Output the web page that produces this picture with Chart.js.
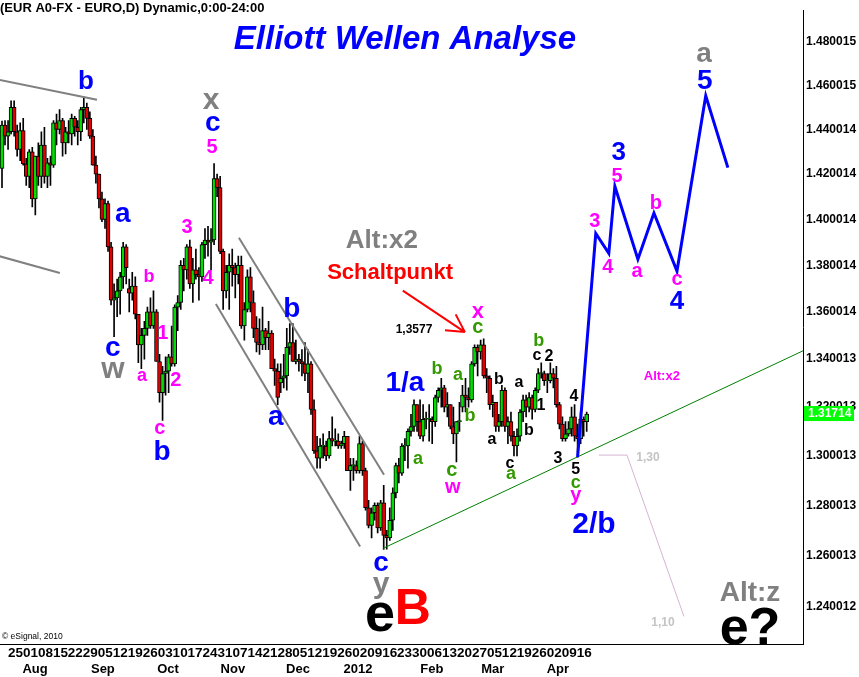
<!DOCTYPE html>
<html><head><meta charset="utf-8">
<script src="https://cdn.jsdelivr.net/npm/chart.js@4.4.1/dist/chart.umd.min.js"></script>
<style>html,body{margin:0;padding:0;background:#fff;}canvas{display:block;}</style>
</head><body>
<canvas id="c" width="859" height="677"></canvas>
<script>
// Daily EUR/USD bars, 21 Jul 2011 .. 19 Apr 2012 (index = bar number)
const openP = [
1.4225,1.4420,1.4370,1.4390,1.4500,1.4390,1.4310,1.4395,1.4245,1.4190,
1.4300,1.4090,1.4280,1.4190,1.4330,1.4190,1.4250,1.4240,1.4430,1.4400,
1.4440,1.4340,1.4390,1.4380,1.4450,1.4410,1.4390,1.4490,1.4500,1.4450,
1.4370,1.4240,1.4200,1.4090,1.4000,1.4070,1.3880,1.3650,1.3660,1.3690,
1.3750,1.3880,1.3700,1.3680,1.3710,1.3590,1.3460,1.3500,1.3530,1.3600,
1.3540,1.3600,1.3390,1.3260,1.3340,1.3350,1.3410,1.3380,1.3620,1.3640,
1.3800,1.3780,1.3880,1.3720,1.3780,1.3760,1.3750,1.3890,1.3910,1.3900,
1.3910,1.4180,1.4140,1.3860,1.3690,1.3770,1.3800,1.3790,1.3760,1.3800,
1.3540,1.3610,1.3750,1.3640,1.3530,1.3470,1.3460,1.3520,1.3490,1.3510,
1.3360,1.3350,1.3300,1.3320,1.3330,1.3450,1.3470,1.3390,1.3400,1.3390,
1.3380,1.3340,1.3380,1.3190,1.3020,1.2990,1.3040,1.3040,1.3000,1.3070,
1.3060,1.3060,1.3040,1.3050,1.3080,1.2940,1.2960,1.2960,1.2940,1.3050,
1.2940,1.2790,1.2720,1.2770,1.2800,1.2710,1.2810,1.2680,1.2670,1.2740,
1.2850,1.2960,1.2930,1.3040,1.3040,1.3100,1.3120,1.3210,1.3140,1.3080,
1.3150,1.3150,1.3150,1.3140,1.3240,1.3270,1.3280,1.3200,1.3210,1.3120,
1.3090,1.3140,1.3200,1.3250,1.3240,1.3230,1.3380,1.3450,1.3430,1.3460,
1.3330,1.3320,1.3210,1.3220,1.3120,1.3140,1.3270,1.3120,1.3140,1.3080,
1.3040,1.3080,1.3180,1.3230,1.3200,1.3240,1.3190,1.3270,1.3340,1.3340,
1.3310,1.3310,1.3340,1.3320,1.3210,1.3130,1.3070,1.3090,1.3110,1.3160,
1.3080,1.3070,1.3150,1.3140];
const highP = [
1.4438,1.4440,1.4440,1.4530,1.4530,1.4420,1.4430,1.4450,1.4270,1.4310,
1.4320,1.4280,1.4340,1.4390,1.4410,1.4270,1.4280,1.4440,1.4470,1.4490,
1.4450,1.4410,1.4440,1.4470,1.4460,1.4440,1.4500,1.4548,1.4520,1.4480,
1.4400,1.4280,1.4200,1.4120,1.4090,1.4080,1.3900,1.3720,1.3740,1.3770,
1.3900,1.3890,1.3740,1.3770,1.3750,1.3590,1.3530,1.3560,1.3620,1.3660,
1.3690,1.3610,1.3420,1.3370,1.3410,1.3420,1.3540,1.3630,1.3670,1.3820,
1.3830,1.3890,1.3910,1.3830,1.3870,1.3790,1.3900,1.3960,1.3970,1.3960,
1.4247,1.4200,1.4190,1.3870,1.3800,1.3850,1.3870,1.3810,1.3840,1.3840,
1.3640,1.3780,1.3790,1.3690,1.3580,1.3570,1.3620,1.3530,1.3560,1.3520,
1.3400,1.3380,1.3380,1.3420,1.3530,1.3550,1.3550,1.3480,1.3420,1.3440,
1.3470,1.3440,1.3390,1.3230,1.3080,1.3070,1.3090,1.3060,1.3100,1.3160,
1.3110,1.3090,1.3060,1.3100,1.3080,1.2990,1.2990,1.2980,1.3080,1.3060,
1.2950,1.2820,1.2790,1.2810,1.2810,1.2820,1.2880,1.2700,1.2790,1.2870,
1.2970,1.2990,1.3050,1.3070,1.3110,1.3170,1.3230,1.3210,1.3230,1.3210,
1.3180,1.3210,1.3160,1.3250,1.3280,1.3320,1.3290,1.3260,1.3210,1.3200,
1.3140,1.3220,1.3290,1.3320,1.3280,1.3390,1.3460,1.3460,1.3480,1.3486,
1.3360,1.3330,1.3250,1.3220,1.3170,1.3290,1.3280,1.3160,1.3180,1.3100,
1.3110,1.3190,1.3250,1.3250,1.3260,1.3250,1.3280,1.3360,1.3385,1.3350,
1.3340,1.3385,1.3360,1.3370,1.3220,1.3160,1.3140,1.3140,1.3200,1.3210,
1.3130,1.3180,1.3160,1.3180];
const lowP = [
1.4140,1.4330,1.4310,1.4380,1.4370,1.4280,1.4260,1.4240,1.4150,1.4140,
1.4055,1.4020,1.4150,1.4140,1.4160,1.4140,1.4150,1.4230,1.4330,1.4380,
1.4280,1.4290,1.4340,1.4330,1.4370,1.4330,1.4350,1.4430,1.4400,1.4360,
1.4240,1.4160,1.4050,1.3990,1.3960,1.3860,1.3630,1.3495,1.3580,1.3590,
1.3700,1.3720,1.3600,1.3650,1.3570,1.3385,1.3360,1.3400,1.3500,1.3530,
1.3530,1.3390,1.3220,1.3145,1.3250,1.3260,1.3370,1.3370,1.3520,1.3610,
1.3690,1.3740,1.3700,1.3640,1.3740,1.3650,1.3730,1.3830,1.3840,1.3780,
1.3890,1.4100,1.3850,1.3610,1.3660,1.3610,1.3710,1.3660,1.3720,1.3530,
1.3480,1.3600,1.3600,1.3490,1.3430,1.3420,1.3440,1.3440,1.3440,1.3360,
1.3290,1.3210,1.3260,1.3280,1.3270,1.3420,1.3390,1.3380,1.3350,1.3330,
1.3310,1.3260,1.3170,1.3010,1.2950,1.2950,1.2990,1.2980,1.2990,1.3040,
1.3040,1.3030,1.3030,1.3030,1.2940,1.2860,1.2900,1.2930,1.2930,1.2920,
1.2780,1.2710,1.2670,1.2740,1.2690,1.2700,1.2624,1.2625,1.2660,1.2700,
1.2830,1.2890,1.2920,1.2980,1.2950,1.3080,1.3100,1.3100,1.3070,1.3060,
1.3110,1.3060,1.3050,1.3120,1.3220,1.3200,1.3180,1.3160,1.3110,1.3050,
1.2975,1.3100,1.3180,1.3180,1.3200,1.3220,1.3370,1.3330,1.3400,1.3320,
1.3260,1.3190,1.3160,1.3100,1.3100,1.3120,1.3100,1.3050,1.3060,1.3000,
1.3000,1.3060,1.3140,1.3160,1.3180,1.3150,1.3180,1.3260,1.3320,1.3290,
1.3260,1.3300,1.3280,1.3200,1.3110,1.3060,1.3060,1.3080,1.3080,1.3060,
1.2995,1.3050,1.3080,1.3100];
const closeP = [
1.4420,1.4370,1.4390,1.4500,1.4390,1.4310,1.4395,1.4245,1.4190,1.4300,
1.4090,1.4280,1.4190,1.4330,1.4190,1.4250,1.4240,1.4430,1.4400,1.4440,
1.4340,1.4390,1.4380,1.4450,1.4410,1.4390,1.4490,1.4500,1.4450,1.4370,
1.4240,1.4200,1.4090,1.4000,1.4070,1.3880,1.3650,1.3660,1.3690,1.3750,
1.3880,1.3790,1.3680,1.3710,1.3590,1.3460,1.3500,1.3530,1.3600,1.3540,
1.3600,1.3390,1.3260,1.3340,1.3350,1.3410,1.3380,1.3620,1.3640,1.3800,
1.3780,1.3880,1.3720,1.3780,1.3760,1.3750,1.3890,1.3910,1.3900,1.3910,
1.4180,1.4140,1.3860,1.3690,1.3770,1.3800,1.3790,1.3760,1.3800,1.3540,
1.3610,1.3750,1.3640,1.3530,1.3470,1.3460,1.3520,1.3490,1.3510,1.3360,
1.3350,1.3240,1.3320,1.3330,1.3450,1.3470,1.3390,1.3400,1.3390,1.3380,
1.3340,1.3380,1.3190,1.3020,1.2990,1.3040,1.3040,1.3000,1.3070,1.3060,
1.3060,1.3040,1.3050,1.3080,1.2940,1.2960,1.2960,1.2940,1.3050,1.2940,
1.2790,1.2720,1.2770,1.2800,1.2710,1.2810,1.2680,1.2670,1.2740,1.2850,
1.2960,1.2930,1.3040,1.3040,1.3100,1.3120,1.3210,1.3140,1.3080,1.3150,
1.3150,1.3150,1.3140,1.3240,1.3270,1.3280,1.3200,1.3210,1.3120,1.3090,
1.3140,1.3140,1.3250,1.3240,1.3230,1.3380,1.3450,1.3430,1.3460,1.3330,
1.3320,1.3210,1.3220,1.3120,1.3140,1.3270,1.3120,1.3140,1.3080,1.3040,
1.3080,1.3180,1.3230,1.3200,1.3240,1.3190,1.3270,1.3340,1.3340,1.3310,
1.3310,1.3340,1.3320,1.3210,1.3130,1.3070,1.3090,1.3110,1.3160,1.3080,
1.3070,1.3150,1.3140,1.31714];

// Elliott projection (bar index, price)
const projX = [190.0, 196.0, 200.3, 202.3, 209.9, 215.2, 222.8, 232.3, 239.6];
const projY = [1.2995, 1.3938, 1.3852, 1.4146, 1.3826, 1.4028, 1.3775, 1.4553, 1.4229];
// trend / channel lines (bar index, price)
const chanA_X = [-1, 31.35], chanA_Y = [1.4626, 1.4535];
const chanB_X = [-1, 19.1],  chanB_Y = [1.3840, 1.3767];
const chanC_X = [78.2, 126.1], chanC_Y = [1.3920, 1.2923];
const chanD_X = [70.6, 118.2], chanD_Y = [1.3634, 1.2636];
const trendX = [125.7, 264.4], trendY = [1.2628, 1.3435];
const fibX = [197.0, 206.3, 225.1], fibY = [1.3003, 1.3003, 1.2362];
const arrowX = [132.3, 152.8], arrowY = [1.3691, 1.3514];

// axis ticks
const yTickValues = [1.240012,1.260013,1.280013,1.300013,1.320013,1.340013,1.360014,1.380014,1.400014,1.420014,1.440014,1.460015,1.480015];
const yTickLabels = ['1.240012','1.260013','1.280013','1.300013','1.320013','1.340013','1.360014','1.380014','1.400014','1.420014','1.440014','1.460015','1.480015'];
const weekLabels = ['25','01','08','15','22','29','05','12','19','26','03','10','17','24','31','07','14','21','28','05','12','19','26','02','09','16','23','30','06','13','20','27','05','12','19','26','02','09','16'];
const weekPos = weekLabels.map((_, k) => 1.98 + 4.94 * k);
const monthLabels = ['Aug','Sep','Oct','Nov','Dec','2012','Feb','Mar','Apr'];
const monthPos = [10.9, 33.3, 54.8, 76.2, 97.7, 117.5, 141.9, 162.0, 183.5];

const BLUE='#0000ff', MAG='#ff00ff', GREY='#808080', GREEN='#339900', BLACK='#000000', RED='#ff0000', LIGHT='#c4c4c4';
// wave labels: text, bar index, price, colour, font px
const notes = [
 ['b',27.7,1.4629,BLUE,26],['x',69.0,1.4530,GREY,30],['c',69.6,1.4428,BLUE,28],['5',69.3,1.4326,MAG,20],
 ['a',39.9,1.4020,BLUE,28],['3',61.1,1.3972,MAG,20],['b',48.5,1.3754,MAG,18],['4',68.0,1.3750,MAG,20],
 ['1',53.1,1.3514,MAG,20],['c',36.6,1.3444,BLUE,28],['w',36.6,1.3353,GREY,30],['a',46.2,1.3328,MAG,18],
 ['2',57.4,1.3316,MAG,20],['c',52.1,1.3112,MAG,20],['b',52.8,1.3023,BLUE,28],['b',95.7,1.3619,BLUE,28],
 ['a',90.4,1.3157,BLUE,28],['c',125.1,1.2566,BLUE,28],['y',125.1,1.2473,GREY,30],['e',124.8,1.2358,BLACK,54],
 ['B',135.6,1.2404,RED,50],['Alt:x2',125.4,1.3916,GREY,26],['Schaltpunkt',128.1,1.3775,RED,22],['1,3577',136.0,1.3527,BLACK,12],
 ['x',157.1,1.3598,MAG,22],['c',157.1,1.3531,GREEN,20],['1/a',133.0,1.3308,BLUE,28],['b',143.6,1.3365,GREEN,18],
 ['a',150.5,1.3332,GREEN,18],['b',154.5,1.3169,GREEN,18],['a',137.3,1.2987,GREEN,18],['c',148.5,1.2939,GREEN,20],
 ['w',148.8,1.2872,MAG,20],['b',164.0,1.3320,BLACK,16],['a',161.7,1.3064,BLACK,16],['b',177.2,1.3481,GREEN,18],
 ['c',176.6,1.3415,BLACK,16],['2',180.5,1.3415,BLACK,16],['a',170.6,1.3299,BLACK,16],['1',177.9,1.3213,BLACK,16],
 ['b',173.9,1.3108,BLACK,16],['c',167.7,1.2967,BLACK,16],['a',168.0,1.2923,GREEN,18],['4',188.8,1.3250,BLACK,16],
 ['3',183.5,1.2995,BLACK,16],['5',189.4,1.2951,BLACK,16],['c',189.4,1.2887,GREEN,18],['y',189.4,1.2828,MAG,20],
 ['2/b',195.4,1.2733,BLUE,30],['3',203.6,1.4303,BLUE,26],['5',203.0,1.4198,MAG,20],['3',195.7,1.3998,MAG,20],
 ['4',200.0,1.3796,MAG,20],['a',209.6,1.3771,MAG,20],['b',215.8,1.4076,MAG,20],['c',222.8,1.3737,MAG,20],
 ['4',222.8,1.3653,BLUE,26],['a',231.7,1.4742,GREY,28],['5',232.0,1.4629,BLUE,28],['Alt:x2',217.8,1.3332,MAG,13],
 ['Alt:z',246.9,1.2461,GREY,28],['e?',246.9,1.2328,BLACK,52],['1,30',213.2,1.2995,LIGHT,12],['1,10',218.2,1.2343,LIGHT,12]
];

const FONT = 'Arial, "Liberation Sans", sans-serif';
Chart.defaults.font.family = FONT;

const idx = openP.map((_, i) => i);
const wickData = idx.map(i => ({x: i, y: [lowP[i], highP[i]]}));
const bodyData = idx.map(i => ({x: i, y: [openP[i], closeP[i]]}));
const bodyColors = idx.map(i => closeP[i] >= openP[i] ? '#00dd00' : '#e00000');
const pts = (xs, ys) => xs.map((v, i) => ({x: v, y: ys[i]}));
const lineDs = (xs, ys, color, w) => ({type:'line', data: pts(xs, ys), borderColor: color, borderWidth: w, pointRadius: 0, fill: false, tension: 0, order: 0});

function kOf(t){ if (/^[acemnorsuvwxz]+$/.test(t)) return 0.26; if (t === 'y') return 0.155; return 0.36; }

const overlay = {
  id: 'overlay',
  afterDatasetsDraw(chart) {
    const {ctx, scales: {x, y}} = chart;
    ctx.save();
    // arrow
    const x0 = x.getPixelForValue(arrowX[0]), y0 = y.getPixelForValue(arrowY[0]);
    const x1 = x.getPixelForValue(arrowX[1]), y1 = y.getPixelForValue(arrowY[1]);
    ctx.strokeStyle = RED; ctx.lineWidth = 2;
    ctx.beginPath(); ctx.moveTo(x0, y0); ctx.lineTo(x1, y1);
    const ang = Math.atan2(y1 - y0, x1 - x0) + Math.PI;
    for (const d of [-0.5, 0.5]) { ctx.moveTo(x1, y1); ctx.lineTo(x1 + 20 * Math.cos(ang + d), y1 + 20 * Math.sin(ang + d)); }
    ctx.stroke();
    // labels
    ctx.textAlign = 'center'; ctx.textBaseline = 'alphabetic';
    for (const [t, nx, ny, c, s] of notes) {
      ctx.font = 'bold ' + s + 'px ' + FONT;
      ctx.fillStyle = c;
      ctx.fillText(t, x.getPixelForValue(nx), y.getPixelForValue(ny) + kOf(t) * s);
    }
    ctx.restore();
  },
  afterDraw(chart) {
    const {ctx, chartArea, scales: {y}} = chart;
    ctx.save();
    ctx.textBaseline = 'middle'; ctx.textAlign = 'left';
    ctx.fillStyle = '#000'; ctx.font = 'bold 13px ' + FONT;
    ctx.fillText('(EUR A0-FX - EURO,D) Dynamic,0:00-24:00', 0, 8);
    ctx.font = '8.5px ' + FONT;
    ctx.fillText('\u00A9 eSignal, 2010', 2, 637);
    ctx.textAlign = 'center';
    ctx.fillStyle = BLUE; ctx.font = 'italic bold 33px ' + FONT;
    ctx.fillText('Elliott Wellen Analyse', 405, 40);
    // last price tag
    const last = closeP[closeP.length - 1];
    const py = y.getPixelForValue(last);
    ctx.fillStyle = '#00ff00';
    ctx.fillRect(chartArea.right + 1, py - 8, 50, 15);
    ctx.fillStyle = '#ffffff'; ctx.textAlign = 'left'; ctx.font = 'bold 12px ' + FONT;
    ctx.fillText(last.toFixed(5), chartArea.right + 5, py);
    ctx.restore();
  }
};

new Chart(document.getElementById('c'), {
  type: 'bar',
  data: {
    datasets: [
      lineDs(projX, projY, BLUE, 3),
      lineDs(trendX, trendY, '#008000', 1),
      lineDs(chanA_X, chanA_Y, GREY, 2),
      lineDs(chanB_X, chanB_Y, GREY, 2),
      lineDs(chanC_X, chanC_Y, GREY, 2),
      lineDs(chanD_X, chanD_Y, GREY, 2),
      lineDs(fibX, fibY, '#d4b4d4', 1),
      {type: 'bar', data: bodyData, backgroundColor: bodyColors, borderColor: '#000', borderWidth: 1, borderSkipped: false, barThickness: 4, grouped: false, minBarLength: 1, order: 1},
      {type: 'bar', data: wickData, backgroundColor: '#000', barThickness: 1, grouped: false, order: 2}
    ]
  },
  options: {
    responsive: false, animation: false, devicePixelRatio: 1,
    layout: {padding: 0},
    plugins: {legend: {display: false}, tooltip: {enabled: false}, title: {display: false}},
    scales: {
      x: {
        type: 'linear', min: -0.66, max: 264.4, offset: false, bounds: 'data', position: 'bottom', weight: 0,
        grid: {display: false, drawTicks: false}, border: {display: true, color: '#000', width: 1},
        ticks: {autoSkip: false, maxRotation: 0, minRotation: 0, align: 'start', padding: 1, color: '#000',
                font: {size: 13.5, weight: 'bold'}, callback: (v, i) => weekLabels[i]},
        afterBuildTicks: s => { s.ticks = weekPos.map(v => ({value: v})); },
        afterFit: s => { s.height = 18; }
      },
      x2: {
        type: 'linear', min: -0.66, max: 264.4, offset: false, bounds: 'data', position: 'bottom', weight: 1,
        grid: {display: false, drawTicks: false}, border: {display: false},
        ticks: {autoSkip: false, maxRotation: 0, minRotation: 0, padding: 0, color: '#000',
                font: {size: 13, weight: 'bold'}, callback: (v, i) => monthLabels[i]},
        afterBuildTicks: s => { s.ticks = monthPos.map(v => ({value: v})); },
        afterFit: s => { s.height = 15; }
      },
      y: {
        type: 'logarithmic', position: 'right', min: 1.22555, max: 1.49486, bounds: 'data',
        grid: {display: false, drawTicks: false}, border: {display: true, color: '#000', width: 1},
        ticks: {autoSkip: false, padding: 3, color: '#000', font: {size: 12, weight: 'bold'},
                callback: (v, i) => yTickLabels[i]},
        afterBuildTicks: s => { s.ticks = yTickValues.map(v => ({value: v})); },
        afterFit: s => { s.width = 56; }
      }
    }
  },
  plugins: [overlay]
});
</script>
</body></html>
